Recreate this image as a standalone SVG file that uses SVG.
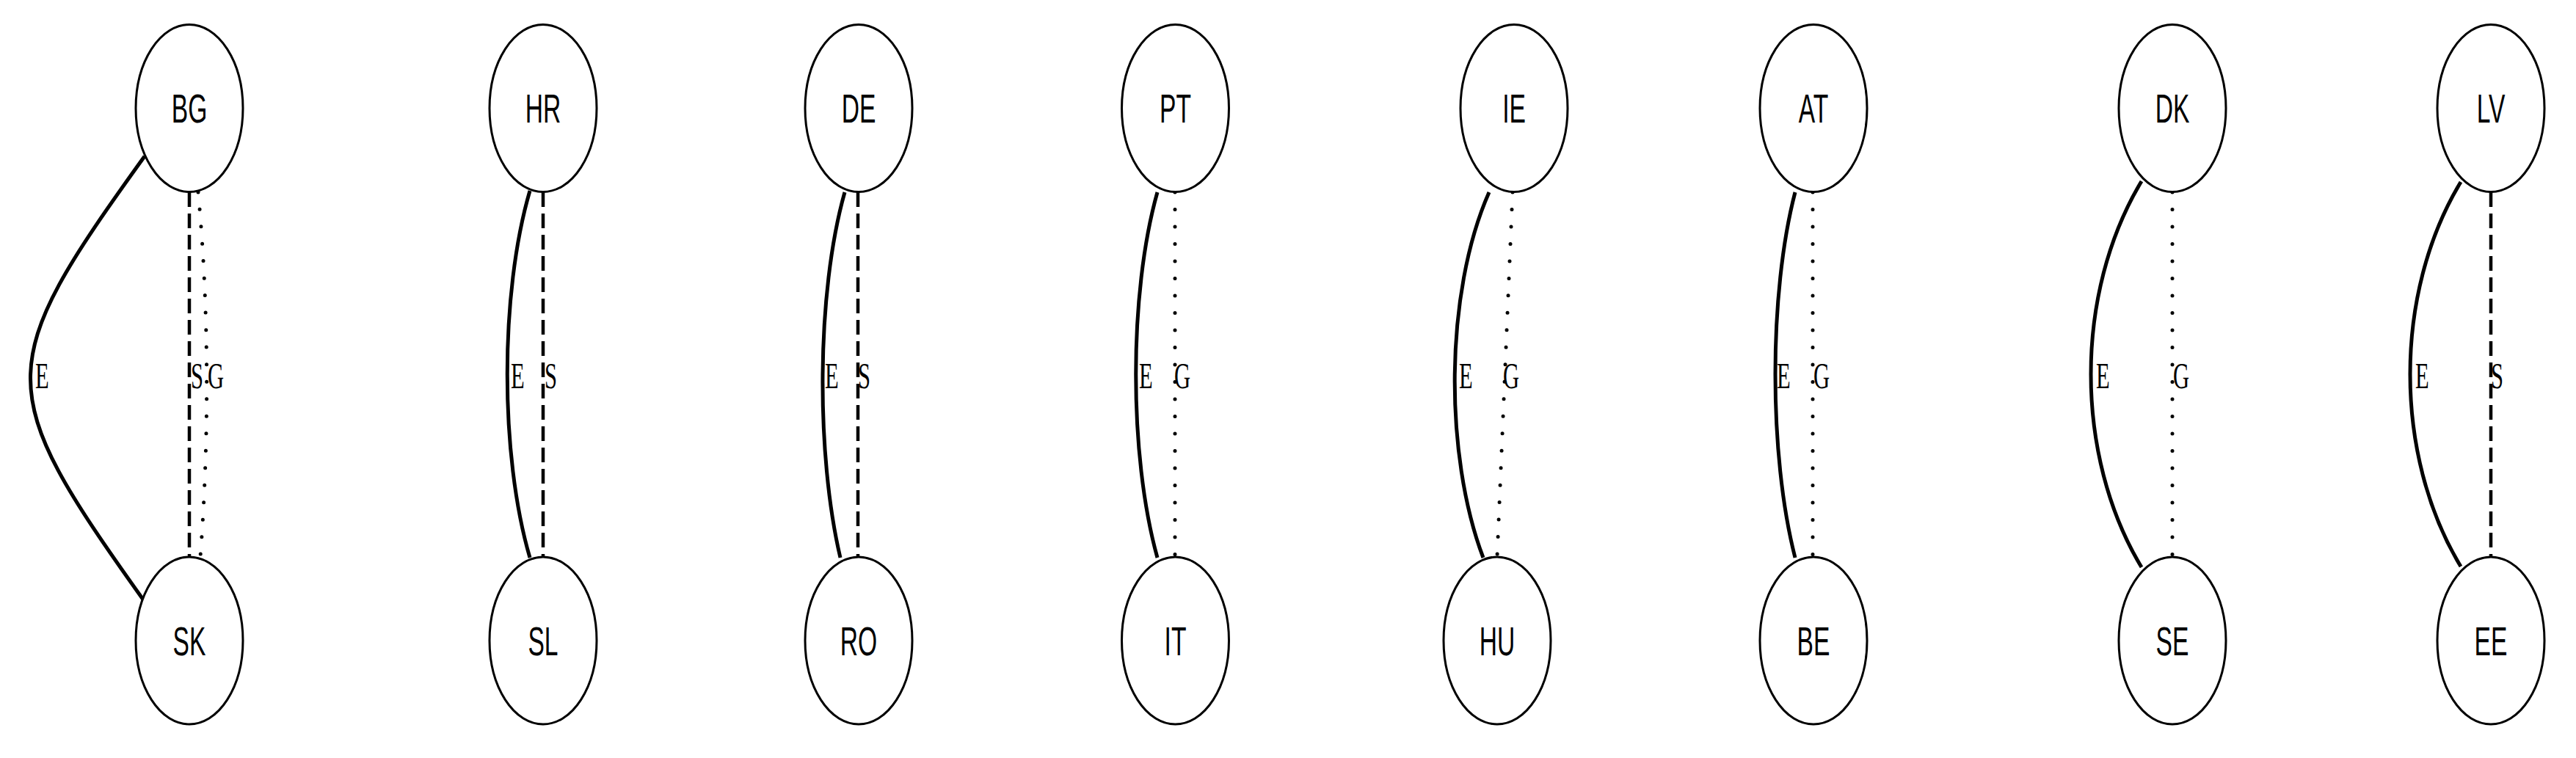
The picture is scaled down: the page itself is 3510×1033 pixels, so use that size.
<svg xmlns="http://www.w3.org/2000/svg" width="3510" height="1033" viewBox="0 0 3510 1033">
<style>
.node ellipse{fill:#fff;stroke:#000;stroke-width:3}
.node text{font-family:"Liberation Sans",Arial,sans-serif;font-size:56px;fill:#000;text-anchor:middle}
.e{fill:none;stroke:#000;stroke-width:4.5}
.solid{stroke-width:5}
.dash{stroke-dasharray:20 9}
.dot{stroke-dasharray:0 23.5;stroke-linecap:round;stroke-width:5}
.lbl text{font-family:"Liberation Serif","Times New Roman",serif;font-size:51px;fill:#000}
</style>
<rect width="3510" height="1033" fill="#fff"/>
<g id="edges">
<path class="e solid" d="M197,213 C-10,500 -10,530 195,817"/>
<path class="e dash" d="M258,262 L258,758"/>
<path class="e dot" d="M270,262 C285,420 285,600 273,758"/>
<path class="e solid" d="M722,260 C681,400 681,620 722,760"/>
<path class="e dash" d="M740,262 L740,758"/>
<path class="e solid" d="M1151,262 C1112,400 1112,620 1145,760"/>
<path class="e dash" d="M1169,262 L1169,758"/>
<path class="e solid" d="M1577,262 C1538,400 1538,620 1577,760"/>
<path class="e dot" d="M1601,262 L1601,758"/>
<path class="e solid" d="M2029,262 C1968,400 1968,620 2021,760"/>
<path class="e dot" d="M2061,262 L2040,758"/>
<path class="e solid" d="M2446,262 C2410,400 2410,620 2446,760"/>
<path class="e dot" d="M2470,262 L2470,758"/>
<path class="e solid" d="M2918,247 C2826,400 2826,620 2918,773"/>
<path class="e dot" d="M2960,262 L2960,758"/>
<path class="e solid" d="M3353,248 C3261,400 3261,620 3353,772"/>
<path class="e dash" d="M3394,262 L3394,758"/>
<g class="lbl">
<text transform="translate(48,529) scale(0.6,1)">E</text>
<text transform="translate(260,529) scale(0.6,1)">S</text>
<text transform="translate(283,529) scale(0.6,1)">G</text>
<text transform="translate(696,529) scale(0.6,1)">E</text>
<text transform="translate(742,529) scale(0.6,1)">S</text>
<text transform="translate(1124,529) scale(0.6,1)">E</text>
<text transform="translate(1169,529) scale(0.6,1)">S</text>
<text transform="translate(1552,529) scale(0.6,1)">E</text>
<text transform="translate(1600,529) scale(0.6,1)">G</text>
<text transform="translate(1988,529) scale(0.6,1)">E</text>
<text transform="translate(2048,529) scale(0.6,1)">G</text>
<text transform="translate(2421,529) scale(0.6,1)">E</text>
<text transform="translate(2471,529) scale(0.6,1)">G</text>
<text transform="translate(2856,529) scale(0.6,1)">E</text>
<text transform="translate(2961,529) scale(0.6,1)">G</text>
<text transform="translate(3291,529) scale(0.6,1)">E</text>
<text transform="translate(3394,529) scale(0.6,1)">S</text>
</g>
</g>
<g id="BG" class="node"><ellipse cx="258" cy="147.5" rx="73" ry="114"/><text transform="translate(258,167) scale(0.6,1)">BG</text></g>
<g id="SK" class="node"><ellipse cx="258" cy="873" rx="73" ry="114"/><text transform="translate(258,893) scale(0.6,1)">SK</text></g>
<g id="HR" class="node"><ellipse cx="740" cy="147.5" rx="73" ry="114"/><text transform="translate(740,167) scale(0.6,1)">HR</text></g>
<g id="SL" class="node"><ellipse cx="740" cy="873" rx="73" ry="114"/><text transform="translate(740,893) scale(0.6,1)">SL</text></g>
<g id="DE" class="node"><ellipse cx="1170" cy="147.5" rx="73" ry="114"/><text transform="translate(1170,167) scale(0.6,1)">DE</text></g>
<g id="RO" class="node"><ellipse cx="1170" cy="873" rx="73" ry="114"/><text transform="translate(1170,893) scale(0.6,1)">RO</text></g>
<g id="PT" class="node"><ellipse cx="1601.5" cy="147.5" rx="73" ry="114"/><text transform="translate(1601.5,167) scale(0.6,1)">PT</text></g>
<g id="IT" class="node"><ellipse cx="1601.5" cy="873" rx="73" ry="114"/><text transform="translate(1601.5,893) scale(0.6,1)">IT</text></g>
<g id="IE" class="node"><ellipse cx="2063" cy="147.5" rx="73" ry="114"/><text transform="translate(2063,167) scale(0.6,1)">IE</text></g>
<g id="HU" class="node"><ellipse cx="2040" cy="873" rx="73" ry="114"/><text transform="translate(2040,893) scale(0.6,1)">HU</text></g>
<g id="AT" class="node"><ellipse cx="2471" cy="147.5" rx="73" ry="114"/><text transform="translate(2471,167) scale(0.6,1)">AT</text></g>
<g id="BE" class="node"><ellipse cx="2471" cy="873" rx="73" ry="114"/><text transform="translate(2471,893) scale(0.6,1)">BE</text></g>
<g id="DK" class="node"><ellipse cx="2960" cy="147.5" rx="73" ry="114"/><text transform="translate(2960,167) scale(0.6,1)">DK</text></g>
<g id="SE" class="node"><ellipse cx="2960" cy="873" rx="73" ry="114"/><text transform="translate(2960,893) scale(0.6,1)">SE</text></g>
<g id="LV" class="node"><ellipse cx="3394" cy="147.5" rx="73" ry="114"/><text transform="translate(3394,167) scale(0.6,1)">LV</text></g>
<g id="EE" class="node"><ellipse cx="3394" cy="873" rx="73" ry="114"/><text transform="translate(3394,893) scale(0.6,1)">EE</text></g>
</svg>
